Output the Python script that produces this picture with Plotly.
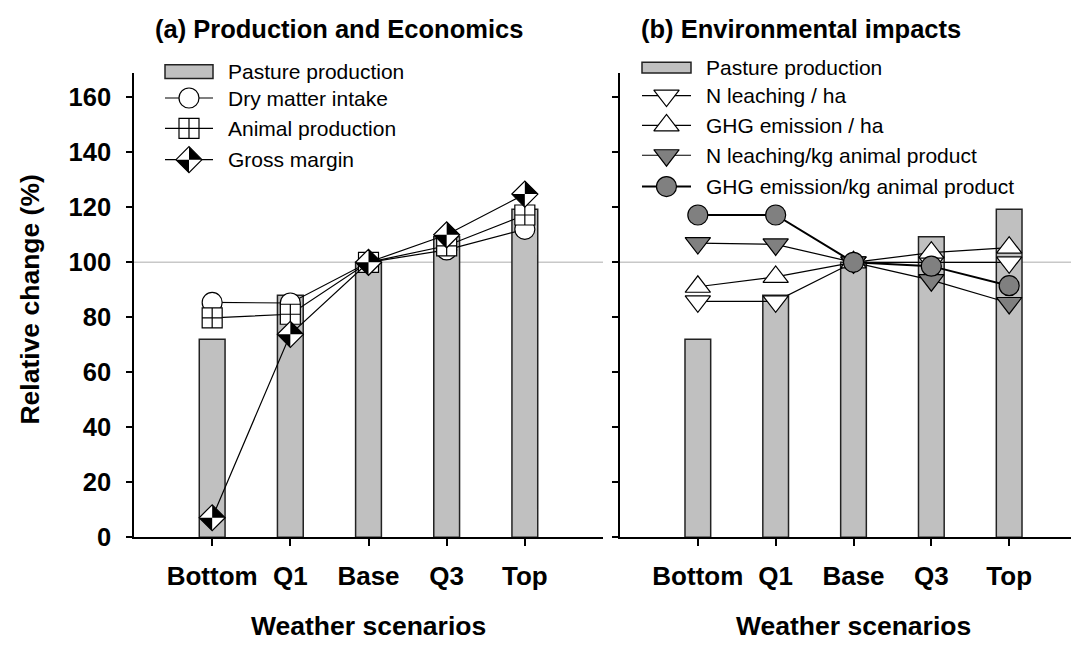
import plotly.graph_objects as go

# ---------------- data ----------------
categories = ["Bottom", "Q1", "Base", "Q3", "Top"]
pasture_production = [72, 88, 100, 109.3, 119.3]
dry_matter_intake = [85.4, 85.2, 100, 104.5, 112]
animal_production = [79.8, 81.1, 100, 106, 117.2]
gross_margin = [7.1, 73.8, 100, 110, 124.8]
n_leaching_ha = [85.8, 85.8, 100, 100, 100]
ghg_emission_ha = [91.1, 94.7, 100, 103.5, 105.3]
n_leaching_kg = [107, 106.5, 100, 93.5, 85.2]
ghg_emission_kg = [117.2, 117.2, 100, 98.6, 91.5]
y_ticks = [0, 20, 40, 60, 80, 100, 120, 140, 160]

labels_a = ["Pasture production", "Dry matter intake", "Animal production", "Gross margin"]
labels_b = ["Pasture production", "N leaching / ha", "GHG emission / ha",
            "N leaching/kg animal product", "GHG emission/kg animal product"]
title_a = "(a) Production and Economics"
title_b = "(b) Environmental impacts"
y_title = "Relative change (%)"
x_title = "Weather scenarios"

# ---------------- styles ----------------
W, H = 1079, 645
FONT = "Arial, Liberation Sans, sans-serif"
BAR_FILL = "#c0c0c0"
GREY = "#808080"
LW = 1.2

def px_x(p):
    return p / W

def px_y(p):
    return 1 - p / H

STY = {
    "dmi": dict(symbol="circle", size=20, color="white", line=dict(color="black", width=LW)),
    "animal": dict(symbol="square-cross", size=20, color="white", line=dict(color="black", width=LW)),
    "gross": dict(symbol="diamond", size=20, color="white", line=dict(color="black", width=LW)),
    "gross_half": dict(symbol="hourglass", size=18.4, angle=45, color="black", line=dict(width=0)),
    "n_ha": dict(symbol="triangle-down", size=22, color="white", line=dict(color="black", width=LW)),
    "ghg_ha": dict(symbol="triangle-up", size=22, color="white", line=dict(color="black", width=LW)),
    "n_kg": dict(symbol="triangle-down", size=22, color=GREY, line=dict(color="black", width=LW)),
    "ghg_kg": dict(symbol="circle", size=20, color=GREY, line=dict(color="black", width=LW)),
}
LINE_W = {"dmi": LW, "animal": LW, "gross": LW, "n_ha": LW, "ghg_ha": LW, "n_kg": LW, "ghg_kg": 2}

fig = go.Figure()

# ---------------- panel (a) ----------------
fig.add_trace(go.Bar(x=categories, y=pasture_production, width=0.33,
                     marker=dict(color=BAR_FILL, line=dict(color="#222222", width=1.5)),
                     xaxis="x", yaxis="y", showlegend=False))
for key, vals in [("dmi", dry_matter_intake), ("animal", animal_production), ("gross", gross_margin)]:
    fig.add_trace(go.Scatter(x=categories, y=vals, mode="lines+markers",
                             line=dict(color="black", width=LINE_W[key]),
                             marker=STY[key], xaxis="x", yaxis="y", showlegend=False))
fig.add_trace(go.Scatter(x=categories, y=gross_margin, mode="markers",
                         marker=STY["gross_half"], xaxis="x", yaxis="y", showlegend=False))

# ---------------- panel (b) ----------------
fig.add_trace(go.Bar(x=categories, y=pasture_production, width=0.33,
                     marker=dict(color=BAR_FILL, line=dict(color="#222222", width=1.5)),
                     xaxis="x2", yaxis="y2", showlegend=False))
for key, vals in [("n_ha", n_leaching_ha), ("ghg_ha", ghg_emission_ha),
                  ("n_kg", n_leaching_kg), ("ghg_kg", ghg_emission_kg)]:
    fig.add_trace(go.Scatter(x=categories, y=vals, mode="lines+markers",
                             line=dict(color="black", width=LINE_W[key]),
                             marker=STY[key], xaxis="x2", yaxis="y2", showlegend=False))

# ---------------- manual legends (pixel overlay axes) ----------------
LEG_A = dict(x0=157, x1=205, text_x=218, rows=[65, 92, 123, 155], rect_h=14,
             keys=[None, "dmi", "animal", "gross"])
LEG_B = dict(x0=634, x1=683, text_x=696, rows=[61, 89.5, 120, 150.5, 182.5], rect_h=11,
             keys=[None, "n_ha", "ghg_ha", "n_kg", "ghg_kg"])

shapes = []
annotations = []
for leg, labels in [(LEG_A, labels_a), (LEG_B, labels_b)]:
    xc = (leg["x0"] + leg["x1"]) / 2
    for key, yc, lab in zip(leg["keys"], leg["rows"], labels):
        if key is None:
            shapes.append(dict(type="rect", xref="x3", yref="y3",
                               x0=leg["x0"], x1=leg["x1"],
                               y0=yc - leg["rect_h"] / 2, y1=yc + leg["rect_h"] / 2,
                               fillcolor=BAR_FILL, line=dict(color="#222222", width=1.5)))
        else:
            fig.add_trace(go.Scatter(x=[leg["x0"], leg["x1"]], y=[yc, yc], mode="lines",
                                     line=dict(color="black", width=LINE_W[key]),
                                     xaxis="x3", yaxis="y3", showlegend=False, hoverinfo="skip"))
            fig.add_trace(go.Scatter(x=[xc], y=[yc], mode="markers", marker=STY[key],
                                     xaxis="x3", yaxis="y3", showlegend=False, hoverinfo="skip"))
            if key == "gross":
                fig.add_trace(go.Scatter(x=[xc], y=[yc], mode="markers", marker=STY["gross_half"],
                                         xaxis="x3", yaxis="y3", showlegend=False, hoverinfo="skip"))
        annotations.append(dict(text=lab, xref="paper", yref="paper",
                                x=px_x(leg["text_x"]), y=px_y(yc), xanchor="left", yanchor="middle",
                                showarrow=False, font=dict(family=FONT, size=21, color="black")))

# 100% reference lines
for xr, yr in [("x domain", "y"), ("x2 domain", "y2")]:
    shapes.append(dict(type="line", xref=xr, yref=yr, x0=0, x1=1, y0=100, y1=100,
                       line=dict(color="#c8c8c8", width=1.5), layer="below"))

tick_bold_x = dict(family=FONT, size=26, color="black", weight="bold")
tick_bold_y = dict(family=FONT, size=25.5, color="black", weight="bold")
axis_bold = dict(family=FONT, size=26.5, color="black", weight="bold")
title_bold = dict(family=FONT, size=25.5, color="black", weight="bold")

# titles
annotations += [
    dict(text=title_a, xref="paper", yref="paper", x=px_x(145), y=px_y(21),
         xanchor="left", yanchor="middle", showarrow=False, font=title_bold),
    dict(text=title_b, xref="paper", yref="paper", x=px_x(631), y=px_y(21),
         xanchor="left", yanchor="middle", showarrow=False, font=title_bold),
    dict(text=y_title, xref="paper", yref="paper", x=px_x(22), y=px_y(298),
         xanchor="center", yanchor="middle", textangle=-90, showarrow=False, font=axis_bold),
    dict(text=x_title, xref="paper", yref="paper", x=px_x(360), y=px_y(632),
         xanchor="center", yanchor="middle", showarrow=False, font=axis_bold),
    dict(text=x_title, xref="paper", yref="paper", x=px_x(845), y=px_y(632),
         xanchor="center", yanchor="middle", showarrow=False, font=axis_bold),
]

xax = dict(type="category", range=[-1, 5], showline=True, linecolor="black", linewidth=1.5,
           ticks="outside", ticklen=7, tickwidth=1.5, tickcolor="black", tickfont=tick_bold_x,
           showgrid=False, zeroline=False, fixedrange=True, ticklabelstandoff=8)
yax = dict(range=[0, 169], tickvals=y_ticks, showline=True, linecolor="black", linewidth=1.5,
           ticks="outside", ticklen=6, tickwidth=1.5, tickcolor="black", tickfont=tick_bold_y,
           showgrid=False, zeroline=False, fixedrange=True, ticklabelstandoff=10)

y_dom = [px_y(541), px_y(66)]
fig.update_layout(
    width=W, height=H,
    margin=dict(l=0, r=0, t=0, b=0),
    paper_bgcolor="white", plot_bgcolor="rgba(0,0,0,0)",
    xaxis=dict(xax, domain=[px_x(126), px_x(595)], anchor="y"),
    yaxis=dict(yax, domain=y_dom, anchor="x"),
    xaxis2=dict(xax, domain=[px_x(612), 1.0], anchor="y2"),
    yaxis2=dict(yax, domain=y_dom, anchor="x2", showticklabels=False),
    xaxis3=dict(domain=[0, 1], range=[0, W], visible=False, anchor="y3", fixedrange=True),
    yaxis3=dict(domain=[0, 1], range=[H, 0], visible=False, anchor="x3", fixedrange=True),
    shapes=shapes, annotations=annotations, bargap=0.5,
)

fig.write_html("out.html")
